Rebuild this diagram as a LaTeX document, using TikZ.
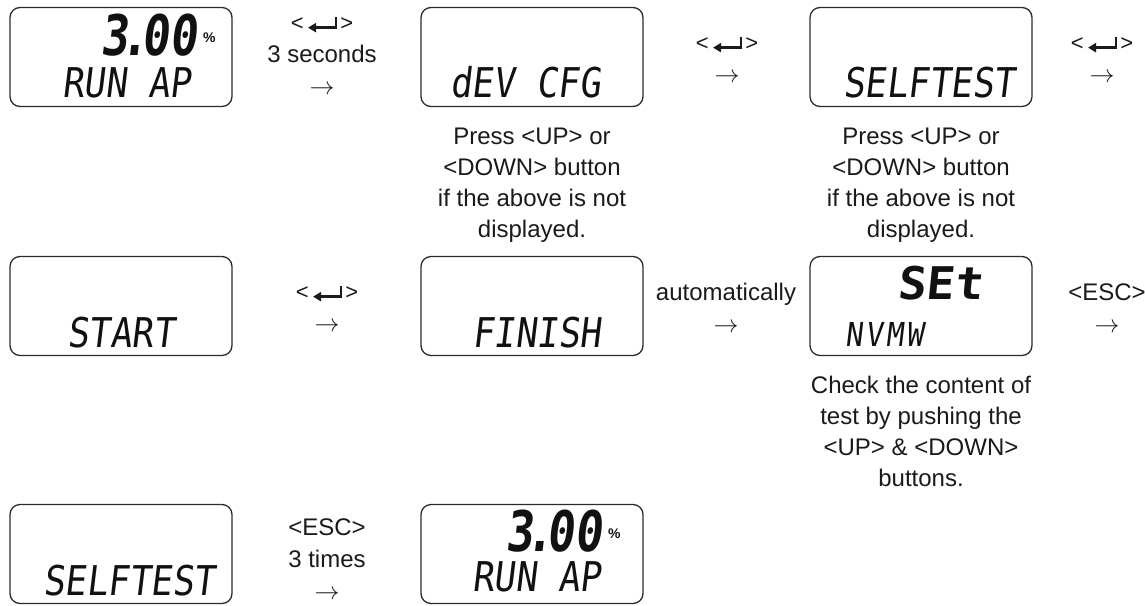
\documentclass[tikz,border=0pt]{standalone}
\usepackage{fontspec}
\setmainfont{Liberation Sans}
\newfontfamily\lcdfont[FakeSlant=0.12,FakeStretch=0.87]{DejaVu Sans Mono}
\newfontfamily\lcdbold[FakeSlant=0.12,FakeStretch=0.82]{DejaVu Sans Mono Bold}
\newfontfamily\lcdwide[FakeSlant=0.10,FakeStretch=1.05]{DejaVu Sans Mono Bold}
\usetikzlibrary{calc, positioning, arrows.meta}

\definecolor{lcdFrame}{HTML}{2B2B2B}
\definecolor{lcdInk}{HTML}{111111}
\definecolor{textMain}{HTML}{1A1A1A}

\newcommand{\enterkey}{\tikz[baseline=0pt,x=1pt,y=1pt]\draw[line width=2.6pt,-{Triangle[length=8pt,width=9pt]}] (28,14) -- (28,3) -- (0,3);}
\newcommand{\keyenter}{{\fontsize{22}{22}\selectfont<\hspace{3pt}\enterkey\hspace{3pt}>}}
\newcommand{\nextarrow}{$\rightarrow$}

\tikzset{
  lcdBox/.style={draw=lcdFrame, line width=1.3pt, rounded corners=10pt,
    minimum width=222pt, minimum height=99pt, inner sep=0pt},
  lcdText/.style={inner sep=0pt, anchor=base west, text=lcdInk,
    text height=30pt, text depth=0pt,
    font=\lcdfont\fontsize{41}{41}\selectfont},
  lcdDigits/.style={inner sep=0pt, anchor=base east, text=lcdInk,
    text height=41pt, text depth=0pt,
    font=\lcdbold\fontsize{56}{56}\selectfont},
  lcdUnit/.style={inner sep=0pt, anchor=base west, text=lcdInk,
    font=\bfseries\fontsize{14}{14}\selectfont},
  keyLabel/.style={align=center, inner sep=0pt, text=textMain,
    font=\fontsize{24}{32}\selectfont},
  noteText/.style={align=center, inner sep=0pt, text=textMain,
    font=\fontsize{24}{31}\selectfont},
}

\begin{document}
\begin{tikzpicture}[x=1pt, y=-1pt]
  \useasboundingbox (0,0) rectangle (1145,605);

  % displays
  \node[lcdBox] (dispRun)     at (121,57)  {};
  \node[lcdBox] (dispDev)     at (532,57)  {};
  \node[lcdBox] (dispSelf)    at (921,57)  {};
  \node[lcdBox] (dispStart)   at (121,306) {};
  \node[lcdBox] (dispFinish)  at (532,306) {};
  \node[lcdBox] (dispSet)     at (921,306) {};
  \node[lcdBox] (dispSelfEnd) at (121,554) {};
  \node[lcdBox] (dispRunEnd)  at (532,554) {};

  % display contents
  \node[lcdDigits] (valRun) at (197,55) {3\hspace{-7pt}.\hspace{-7pt}00};
  \node[lcdUnit] (unitRun) at (203,42) {\%};
  \node[lcdText] (txtRun) at (62,97) {RUN AP};
  \node[lcdText] (txtDev) at (450,97) {dEV CFG};
  \node[lcdText] (txtSelf) at (843,97) {SELFTEST};
  \node[lcdText] (txtStart) at (67,347) {START};
  \node[lcdText] (txtFinish) at (472,347) {FINISH};
  \node[lcdText, font=\lcdwide\fontsize{45}{45}\selectfont] (txtSet) at (897,299) {SEt};
  \node[lcdText, text height=24pt, font=\lcdfont\fontsize{33}{33}\selectfont] (txtNvmw) at (845,346) {N\kern3pt V\kern3pt M\kern3pt W};
  \node[lcdText] (txtSelfEnd) at (43,595) {SELFTEST};
  \node[lcdDigits] (valRunEnd) at (602,551) {3\hspace{-7pt}.\hspace{-7pt}00};
  \node[lcdUnit] (unitRunEnd) at (608,538) {\%};
  \node[lcdText] (txtRunEnd) at (472,591) {RUN AP};

  % key steps
  \node[keyLabel] (keyHold)  at (322,55)  {\keyenter\\3 seconds\\\nextarrow};
  \node[keyLabel] (keyDev)   at (727,59)  {\keyenter\\\nextarrow};
  \node[keyLabel] (keySelf)  at (1102,59) {\keyenter\\\nextarrow};
  \node[keyLabel] (keyStart) at (327,308) {\keyenter\\\nextarrow};
  \node[keyLabel] (keyAuto)  at (726,308) {automatically\\\nextarrow};
  \node[keyLabel] (keyEsc)   at (1107,308) {<ESC>\\\nextarrow};
  \node[keyLabel] (keyEscThree) at (327,559) {<ESC>\\3 times\\\nextarrow};

  % notes
  \node[noteText, below=21pt of dispDev] (noteDev)
    {Press <UP> or\\<DOWN> button\\if the above is not\\displayed.};
  \node[noteText, below=21pt of dispSelf] (noteSelf)
    {Press <UP> or\\<DOWN> button\\if the above is not\\displayed.};
  \node[noteText, below=20pt of dispSet] (noteSet)
    {Check the content of\\test by pushing the\\<UP> \& <DOWN>\\buttons.};
\end{tikzpicture}
\end{document}
